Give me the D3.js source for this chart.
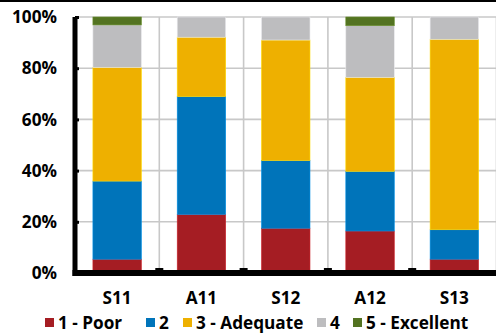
<!DOCTYPE html>
<html><head><meta charset="utf-8">
<script src="https://cdn.jsdelivr.net/npm/d3@7"></script>
<style>body{margin:0;background:#fff}svg{display:block}text{font-family:"Open Sans",sans-serif;font-weight:700;fill:#000}</style>
</head><body>
<svg id="c" width="496" height="336"></svg>
<script>
const categories = ["S11","A11","S12","A12","S13"];
const seriesNames = ["1 - Poor","2","3 - Adequate","4","5 - Excellent"];
const seriesColors = ["#A51D23","#0074BA","#EEB000","#BDBDBF","#537321"];
const poor      = [5.4, 22.9, 17.5, 16.4, 5.4];
const two       = [30.5, 46.0, 26.4, 23.3, 11.5];
const adequate  = [44.4, 23.2, 47.1, 36.7, 74.4];
const four      = [16.6, 7.9, 9.0, 20.2, 8.7];
const excellent = [3.1, 0, 0, 3.4, 0];
const yTicks = [0,20,40,60,80,100];

const seriesVals = [poor, two, adequate, four, excellent];
const rows = categories.map((c,i)=>{const r={cat:c}; seriesNames.forEach((s,j)=>r[s]=seriesVals[j][i]); return r;});
const stack = d3.stack().keys(seriesNames)(rows);

const svg = d3.select("#c");
const x = d3.scaleBand().domain(categories).range([75,496.5]).padding(0);
const y = d3.scaleLinear().domain([0,100]).range([273,17]);
const barW = x.bandwidth()*0.575;

svg.append("rect").attr("x",0).attr("y",0).attr("width",496).attr("height",2).attr("fill","#000");

// gridlines
const g = svg.append("g");
g.selectAll("line.h").data(yTicks.slice(1)).join("line")
  .attr("x1",75).attr("x2",496).attr("y1",d=>y(d)).attr("y2",d=>y(d))
  .attr("stroke","#C8C8C8").attr("stroke-width",1.6);
g.selectAll("line.v").data(categories).join("line")
  .attr("x1",d=>x(d)+x.bandwidth()).attr("x2",d=>x(d)+x.bandwidth())
  .attr("y1",y(100)).attr("y2",y(0))
  .attr("stroke","#C8C8C8").attr("stroke-width",1.6);

// bars
stack.forEach((layer,j)=>{
  svg.append("g").selectAll("rect").data(layer).join("rect")
    .attr("x",d=>x(d.data.cat)+(x.bandwidth()-barW)/2)
    .attr("width",barW)
    .attr("y",d=>y(d[1]))
    .attr("height",d=>Math.max(0,y(d[0])-y(d[1])))
    .attr("fill",seriesColors[j])
    .attr("stroke",d=>d[1]-d[0]>0?d3.color(seriesColors[j]).brighter(0.6):"none")
    .attr("stroke-width",0.6);
});

// y axis
const ya = svg.append("g").attr("transform","translate(75,0)")
  .call(d3.axisRight(y).tickValues(yTicks).tickSize(4).tickFormat(""));
ya.select(".domain").attr("stroke","#000").attr("stroke-width",5).attr("d",`M0,${y(100)}V${y(0)+3}`);
ya.selectAll(".tick line").attr("stroke","#000").attr("stroke-width",3);
svg.append("g").selectAll("text").data(yTicks).join("text")
  .attr("x",57).attr("y",d=>y(d)).attr("dy","0.36em").attr("text-anchor","end")
  .attr("font-size",17.2).text(d=>d+"%");

// x axis
const xa = svg.append("g").attr("transform",`translate(0,${y(0)})`)
  .call(d3.axisTop(x).tickSize(0).tickFormat(""));
xa.select(".domain").attr("stroke","#000").attr("stroke-width",6).attr("d",`M72.5,0H496`);
svg.append("g").selectAll("rect").data(categories.slice(0,4)).join("rect")
  .attr("x",d=>x(d)+x.bandwidth()-4).attr("width",8).attr("y",y(0)-5).attr("height",5).attr("fill","#000");
svg.append("g").selectAll("text").data(categories).join("text")
  .attr("x",d=>x(d)+x.bandwidth()/2).attr("y",304).attr("text-anchor","middle")
  .attr("font-size",17.2).text(d=>d);

// legend
const legX = [45,146,183,317,353];
const lg = svg.append("g");
seriesNames.forEach((s,j)=>{
  lg.append("rect").attr("x",legX[j]).attr("y",318).attr("width",9).attr("height",9).attr("fill",seriesColors[j]);
  lg.append("text").attr("x",legX[j]+13).attr("y",329).attr("font-size",17.2).text(s);
});
</script>
</body></html>
